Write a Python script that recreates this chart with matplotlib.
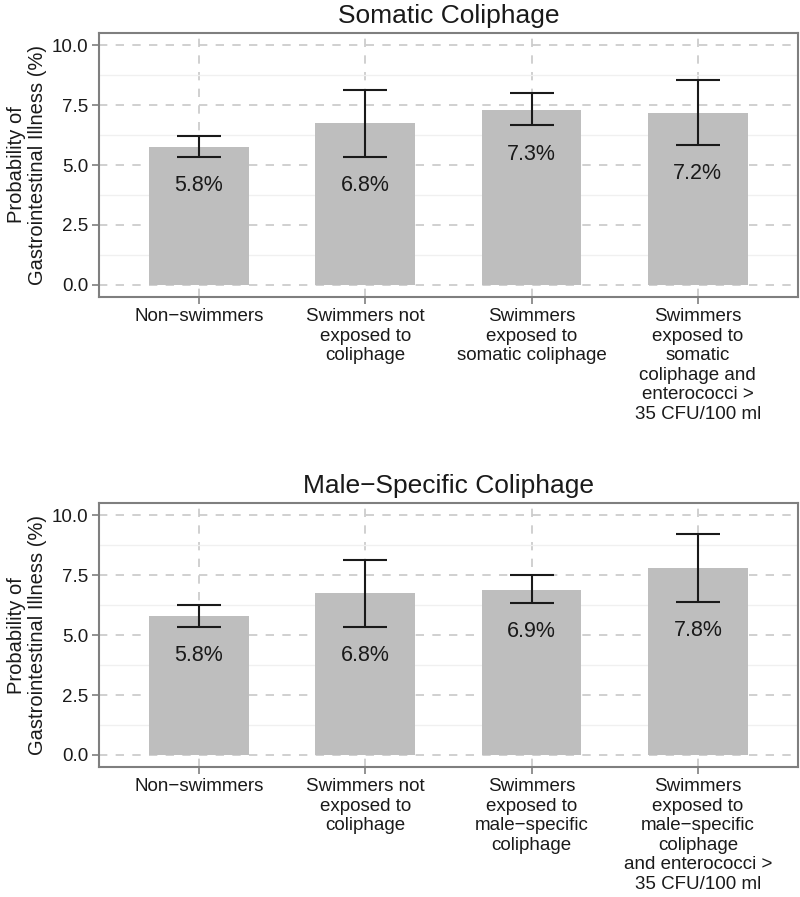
import numpy as np
import matplotlib
matplotlib.use("Agg")
import matplotlib.pyplot as plt
from matplotlib.ticker import MultipleLocator

plt.rcParams["font.family"] = ["Liberation Sans", "DejaVu Sans"]

# data
som_groups = ["Non\u2212swimmers", "Swimmers not\nexposed to\ncoliphage",
              "Swimmers\nexposed to\nsomatic coliphage",
              "Swimmers\nexposed to\nsomatic\ncoliphage and\nenterococci >\n35 CFU/100 ml"]
som_prob = [5.77, 6.75, 7.30, 7.18]
som_low = [5.35, 5.35, 6.65, 5.83]
som_high = [6.22, 8.15, 8.00, 8.54]
som_text = ["5.8%", "6.8%", "7.3%", "7.2%"]

male_groups = ["Non\u2212swimmers", "Swimmers not\nexposed to\ncoliphage",
               "Swimmers\nexposed to\nmale\u2212specific\ncoliphage",
               "Swimmers\nexposed to\nmale\u2212specific\ncoliphage\nand enterococci >\n35 CFU/100 ml"]
male_prob = [5.78, 6.75, 6.90, 7.79]
male_low = [5.35, 5.35, 6.33, 6.39]
male_high = [6.25, 8.15, 7.50, 9.21]
male_text = ["5.8%", "6.8%", "6.9%", "7.8%"]

fig = plt.figure(figsize=(8, 8.97), dpi=100)
ax1 = fig.add_axes([0.124, 0.669, 0.873, 0.294])
ax2 = fig.add_axes([0.124, 0.145, 0.873, 0.294])


def panel(ax, title, groups, prob, low, high, text):
    x = np.arange(1, len(groups) + 1)
    ax.set_axisbelow(True)
    ax.bar(x, prob, width=0.6, color="#bebebe", zorder=2)
    prob = np.array(prob)
    yerr = [prob - np.array(low), np.array(high) - prob]
    ax.errorbar(x, prob, yerr=yerr, fmt="none", ecolor="#1a1a1a",
                elinewidth=1.5, capsize=16, capthick=1.5, zorder=3)
    for xi, lo, t in zip(x, low, text):
        ax.text(xi, lo - 1.2, t, ha="center", va="center", fontsize=15.5,
                color="#1a1a1a", zorder=4)
    ax.set_xlim(0.4, len(groups) + 0.6)
    ax.set_ylim(-0.5, 10.5)
    ax.yaxis.set_minor_locator(MultipleLocator(1.25))
    ax.set_yticks([0, 2.5, 5, 7.5, 10])
    ax.set_yticklabels(["0.0", "2.5", "5.0", "7.5", "10.0"])
    ax.set_xticks(x)
    ax.set_xticklabels(groups, linespacing=1.2)
    ax.tick_params(axis="both", colors="#7f7f7f", length=5, width=1.2,
                   labelsize=13.5, labelcolor="#1a1a1a", pad=3)
    ax.tick_params(axis="y", which="minor", length=0)
    ax.grid(True, which="major", color="#c8c8c8", linestyle=(0, (5, 5)),
            linewidth=1.2)
    ax.grid(True, which="minor", axis="y", color="#f0f0f0", linewidth=1.0)
    for s in ax.spines.values():
        s.set_color("#7f7f7f")
        s.set_linewidth(1.5)
    ax.set_title(title, fontsize=19, color="#1a1a1a", pad=7)
    ax.set_ylabel("Probability of\nGastrointestinal Illness (%)", fontsize=14.5,
                  color="#1a1a1a", labelpad=3, linespacing=1.15)


panel(ax1, "Somatic Coliphage", som_groups, som_prob, som_low, som_high, som_text)
panel(ax2, "Male\u2212Specific Coliphage", male_groups, male_prob, male_low,
      male_high, male_text)

fig.savefig("out.png", dpi=100, facecolor="white")
